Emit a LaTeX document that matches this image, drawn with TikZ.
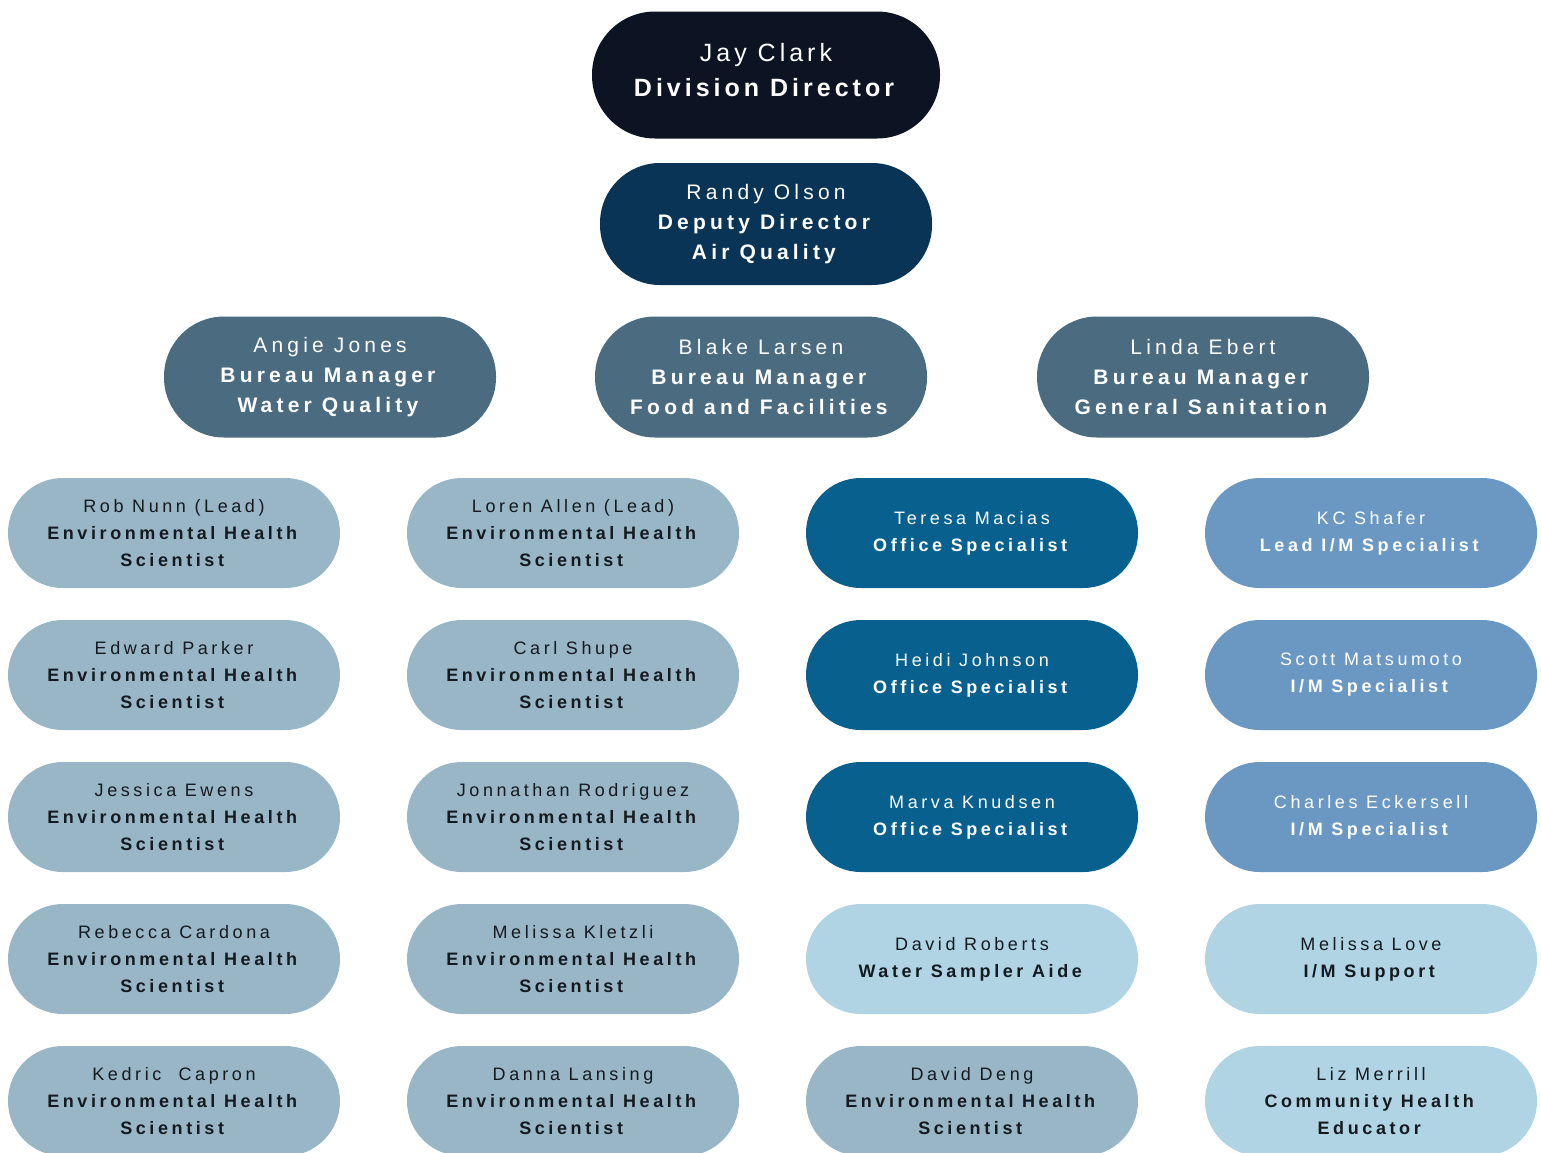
\documentclass[tikz,border=0pt]{standalone}
\usepackage{fontspec}
\setmainfont{Liberation Sans}[LetterSpace=20]
\usetikzlibrary{positioning}

\definecolor{navy}{HTML}{0C1322}
\definecolor{deep}{HTML}{0A3456}
\definecolor{slate}{HTML}{4A6B80}
\definecolor{steel}{HTML}{98B6C6}
\definecolor{ocean}{HTML}{08608F}
\definecolor{sky}{HTML}{6A98C3}
\definecolor{pale}{HTML}{B0D4E4}
\definecolor{ink}{HTML}{141A1F}

\begin{document}
\begin{tikzpicture}[x=0.5pt,y=-0.5pt,node distance=71pt and 199.5pt,on grid,
    pill/.style={rectangle,inner sep=0pt,align=center,minimum width=166pt,
      minimum height=55pt,rounded corners=27.4pt},
    staff/.style={pill,fill=steel,text=ink,font=\fontsize{9}{13.5}\selectfont},
    office/.style={staff,fill=ocean,text=white},
    inspect/.style={office,fill=sky},
    aide/.style={staff,fill=pale,text=ink},
    manager/.style={pill,fill=slate,text=white,minimum height=60.5pt,
      rounded corners=30pt,font=\fontsize{10.5}{15}\selectfont}]
   \useasboundingbox (0,0) rectangle (1541,1152);
   % top of the division
   \node[pill, fill=navy, text=white, minimum width=174pt, minimum height=63.5pt,
     rounded corners=31.5pt, text depth=5.2pt,
     font=\fontsize{12.5}{17.5}\selectfont\addfontfeatures{LetterSpace=16}]
     (jay) at (766,75) {Jay Clark\\\textbf{Division Director}};
   \node[manager, fill=deep, minimum height=61pt] (randy) at (766,224)
     {Randy Olson\\\textbf{Deputy Director}\\\textbf{Air Quality}};
   % bureaus
   \node[manager] (angie) at (330,377) {Angie Jones\\\textbf{Bureau Manager}\\\textbf{Water Quality}};
   \node[manager] (blake) at (761,377) {Blake Larsen\\\textbf{Bureau Manager}\\\textbf{Food and Facilities}};
   \node[manager] (linda) at (1203,377) {Linda Ebert\\\textbf{Bureau Manager}\\\textbf{General Sanitation}};
   % first column
   \node[staff] (w_1) at (174,533) {Rob Nunn (Lead)\\\textbf{Environmental Health}\\\textbf{Scientist}};
   \node[staff] (w_2) [below=of w_1] {Edward Parker\\\textbf{Environmental Health}\\\textbf{Scientist}};
   \node[staff] (w_3) [below=of w_2] {Jessica Ewens\\\textbf{Environmental Health}\\\textbf{Scientist}};
   \node[staff] (w_4) [below=of w_3] {Rebecca Cardona\\\textbf{Environmental Health}\\\textbf{Scientist}};
   \node[staff] (w_5) [below=of w_4] {Kedric~~Capron\\\textbf{Environmental Health}\\\textbf{Scientist}};
   % second column
   \node[staff] (f_1) [right=of w_1] {Loren Allen (Lead)\\\textbf{Environmental Health}\\\textbf{Scientist}};
   \node[staff] (f_2) [below=of f_1] {Carl Shupe\\\textbf{Environmental Health}\\\textbf{Scientist}};
   \node[staff] (f_3) [below=of f_2] {Jonnathan Rodriguez\\\textbf{Environmental Health}\\\textbf{Scientist}};
   \node[staff] (f_4) [below=of f_3] {Melissa Kletzli\\\textbf{Environmental Health}\\\textbf{Scientist}};
   \node[staff] (f_5) [below=of f_4] {Danna Lansing\\\textbf{Environmental Health}\\\textbf{Scientist}};
   % third column
   \node[office] (o_1) [right=of f_1] {Teresa Macias\\\textbf{Office Specialist}};
   \node[office] (o_2) [below=of o_1] {Heidi Johnson\\\textbf{Office Specialist}};
   \node[office] (o_3) [below=of o_2] {Marva Knudsen\\\textbf{Office Specialist}};
   \node[aide] (o_4) [below=of o_3] {David Roberts\\\textbf{Water Sampler Aide}};
   \node[staff] (o_5) [below=of o_4] {David Deng\\\textbf{Environmental Health}\\\textbf{Scientist}};
   % fourth column
   \node[inspect] (m_1) [right=of o_1] {KC Shafer\\\textbf{Lead I/M Specialist}};
   \node[inspect] (m_2) [below=of m_1] {Scott Matsumoto\\\textbf{I/M Specialist}};
   \node[inspect] (m_3) [below=of m_2] {Charles Eckersell\\\textbf{I/M Specialist}};
   \node[aide] (m_4) [below=of m_3] {Melissa Love\\\textbf{I/M Support}};
   \node[aide] (m_5) [below=of m_4] {Liz Merrill\\\textbf{Community Health}\\\textbf{Educator}};
\end{tikzpicture}
\end{document}
